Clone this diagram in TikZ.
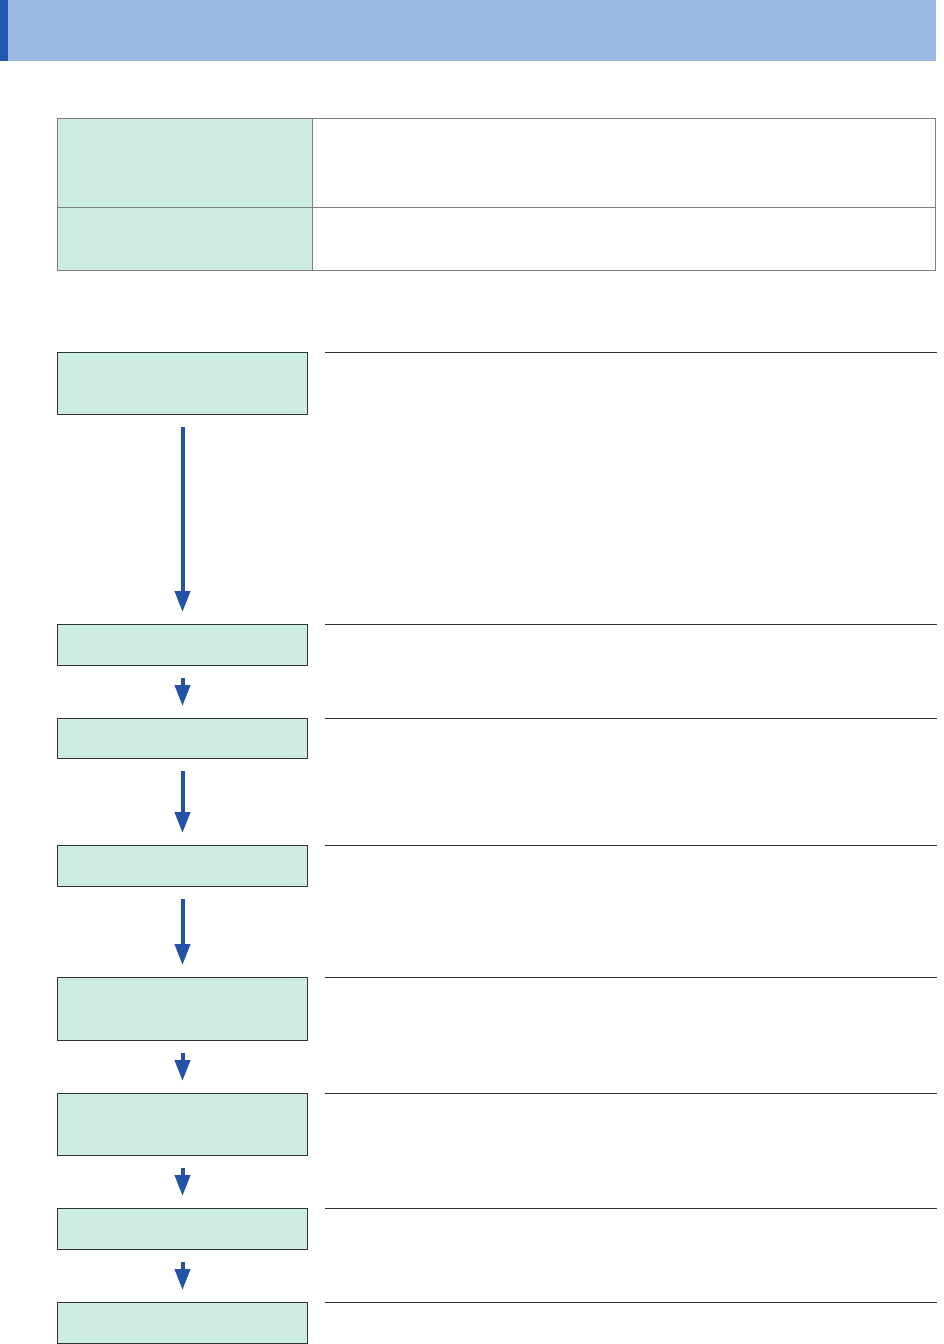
\documentclass[tikz,border=0pt]{standalone}
\usetikzlibrary{arrows.meta,calc}
\definecolor{bandblue}{HTML}{9BB8E3}
\definecolor{stripblue}{HTML}{2457B0}
\definecolor{mint}{HTML}{CCECE3}
\definecolor{cellgray}{HTML}{7F7F7F}
\definecolor{boxline}{HTML}{333333}
\definecolor{arrowblue}{HTML}{2253A8}
\tikzset{
  cell/.style={draw=cellgray, line width=1.3pt, rectangle, anchor=north west, inner sep=0pt},
  keycell/.style={cell, fill=mint, minimum width=255pt},
  valcell/.style={cell, fill=white, minimum width=623pt},
  stepbox/.style={draw=boxline, line width=1pt, fill=mint, rectangle, anchor=north west, inner sep=0pt, minimum width=250pt},
  rule/.style={draw=boxline, line width=1pt},
  flow/.style={draw=arrowblue, line width=4pt, shorten <=12pt, shorten >=12pt, -{Triangle[width=15pt,length=21pt]}},
}
\begin{document}
\begin{tikzpicture}[x=1pt,y=-1pt]
\useasboundingbox (0,0) rectangle (944,1344);
% header band
\fill[bandblue] (0,0) rectangle (936,61);
\fill[stripblue] (0,0) rectangle (8,61);
% table
\node[keycell, minimum height=89pt] (k1) at (57,118) {};
\node[valcell, minimum height=89pt] (v1) at (312,118) {};
\node[keycell, minimum height=63pt] (k2) at (57,207) {};
\node[valcell, minimum height=63pt] (v2) at (312,207) {};
% flow boxes
\node[stepbox, minimum height=62pt] (b1) at (57,352) {};
\node[stepbox, minimum height=41pt] (b2) at (57,624) {};
\node[stepbox, minimum height=40pt] (b3) at (57,718) {};
\node[stepbox, minimum height=41pt] (b4) at (57,845) {};
\node[stepbox, minimum height=63pt] (b5) at (57,977) {};
\node[stepbox, minimum height=62pt] (b6) at (57,1093) {};
\node[stepbox, minimum height=41pt] (b7) at (57,1208) {};
\node[stepbox, minimum height=41pt] (b8) at (57,1302) {};
% rules on the right
\foreach \b in {b1,b2,b3,b4,b5,b6,b7,b8}{
  \draw[rule] ($(\b.north east)+(17,0)$) -- ($(\b.north east)+(629,0)$);
}
\draw[rule] ($(b8.south east)+(17,0)$) -- ($(b8.south east)+(629,0)$);
% arrows
\draw[flow] (b1.south) -- (b2.north);
\draw[flow] (b2.south) -- (b3.north);
\draw[flow] (b3.south) -- (b4.north);
\draw[flow] (b4.south) -- (b5.north);
\draw[flow] (b5.south) -- (b6.north);
\draw[flow] (b6.south) -- (b7.north);
\draw[flow] (b7.south) -- (b8.north);
\end{tikzpicture}
\end{document}
